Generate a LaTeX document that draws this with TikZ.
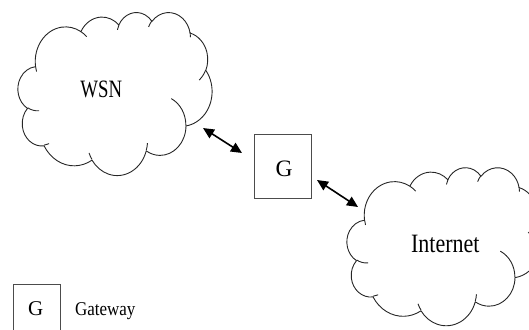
\documentclass[tikz,border=0pt]{standalone}
\usepackage{fontspec}
\setmainfont{Liberation Serif}
\usetikzlibrary{arrows.meta}
% Elliptical arc given by radii, visual start angle and sweep (degrees),
% converted to TikZ's parametric angles.
\newcommand\ooarc[4]{arc[x radius=#1, y radius=#2,
  start angle={atan2((#1)*sin(#3),(#2)*cos(#3))},
  delta angle={mod(atan2((#1)*sin((#3)+(#4)),(#2)*cos((#3)+(#4)))-atan2((#1)*sin(#3),(#2)*cos(#3))+720,360)}]}
% Cloud outline in a 43.2 x 43.2 frame (y downwards), with its inner folds
\newcommand\cloudshape{%
  \draw[cloudline] (3.900,14.370)
    \ooarc{6.753}{9.190}{-190.48748}{123.78053}
    \ooarc{5.333}{7.267}{-144.10238}{89.94523}
    \ooarc{4.365}{5.945}{-145.80792}{99.72302}
    \ooarc{4.857}{6.595}{-130.98607}{117.24173}
    \ooarc{5.333}{7.273}{-78.70888}{109.02692}
    \ooarc{6.775}{9.220}{-46.26725}{130.269}
    \ooarc{5.785}{7.867}{0.62502}{114.03333}
    \ooarc{6.752}{9.215}{22.4516}{115.17255}
    \ooarc{7.720}{10.543}{66.24263}{75.71102}
    \ooarc{4.360}{5.918}{-274.94208}{146.73557}
    \ooarc{4.345}{5.945}{-246.8285}{152.51885}
    -- cycle;
  \draw[cloudline]
    (4.693,26.177) \ooarc{4.345}{5.945}{86.742}{26.4295}
    (6.928,34.899) \ooarc{4.360}{5.918}{73.61047}{11.44747}
    (16.478,39.090) \ooarc{6.752}{9.215}{137.62415}{14.0811}
    (28.827,34.751) \ooarc{6.752}{9.215}{6.45327}{15.99835}
    (34.129,22.954) \ooarc{5.785}{7.867}{-70.29235}{70.91737}
    (41.798,15.354) \ooarc{5.333}{7.273}{30.31803}{27.7515}
    (38.324,5.426) \ooarc{4.857}{6.595}{-13.74433}{14.8589}
    (29.078,3.952) \ooarc{4.857}{6.595}{-149.18145}{18.19537}
    (22.141,4.720) \ooarc{4.365}{5.945}{-163.49427}{17.68635}
    (14.000,5.192) \ooarc{6.753}{9.190}{-66.70695}{12.31935}
    (4.127,15.789) \ooarc{6.753}{9.190}{157.65435}{11.85817};
}
\begin{document}
\begin{tikzpicture}[x=1pt,y=-1pt,
  cloudline/.style={draw=black!85, line width=0.9pt, line join=round},
  cloudframe/.style={inner sep=0pt, anchor=north west},
  label/.style={inner sep=0pt, anchor=base},
  gwbox/.style={draw=black!70, line width=0.9pt, inner sep=0pt},
  link/.style={{Triangle[length=11pt,width=10pt]}-{Triangle[length=11pt,width=10pt]}, line width=1.6pt}]
\useasboundingbox (0,0) rectangle (529,329);
% WSN cloud
\node[cloudframe, minimum width=194pt, minimum height=163pt] (wsn) at (18,12) {};
\begin{scope}[shift={(wsn.north west)}, x=4.491pt, y=-3.773pt]
  \cloudshape
\end{scope}
\node[label, font=\fontsize{25}{28}\selectfont, xscale=0.75] (wsnlabel) at (101.3,97.8) {WSN};
% gateway
\node[gwbox, minimum width=57pt, minimum height=64pt] (gw) at (282.5,166) {};
\node[label, font=\fontsize{23.5}{26}\selectfont] (gwlabel) at (284,176.2) {G};
% Internet cloud
\node[cloudframe, minimum width=194pt, minimum height=158pt] (inet) at (347,167.2) {};
\begin{scope}[shift={(inet.north west)}, x=4.491pt, y=-3.657pt]
  \cloudshape
\end{scope}
\node[label, font=\fontsize{26.5}{29}\selectfont, xscale=0.83] (inetlabel) at (445.3,252.8) {Internet};
% links
\coordinate (a1) at (203,128);
\coordinate (a2) at (242,153);
\coordinate (b1) at (317,180);
\coordinate (b2) at (358,207);
\draw[link] (a1) -- (a2);
\draw[link] (b1) -- (b2);
% legend
\node[gwbox, minimum width=47.3pt, minimum height=52pt] (legbox) at (36.9,310.5) {};
\node[label, font=\fontsize{21}{24}\selectfont] (leglabel) at (35.7,315.5) {G};
\node[label, anchor=base west, font=\fontsize{19.5}{22}\selectfont, xscale=0.87] (legdesc) at (75,315) {Gateway};
\end{tikzpicture}
\end{document}
